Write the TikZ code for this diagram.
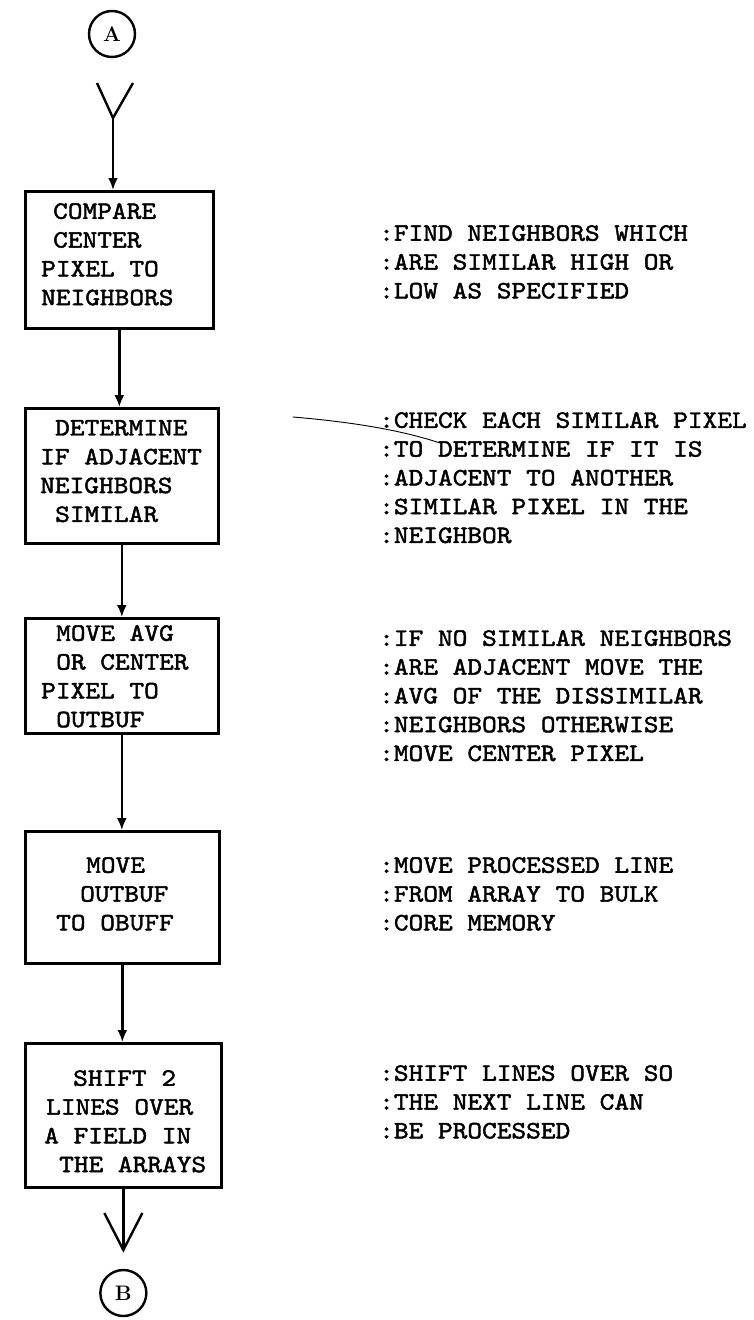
\documentclass[tikz,border=0pt]{standalone}
\usepackage{fontspec}
\newfontfamily\tw[FakeStretch=1.12,FakeBold=1.8]{lmmono10-regular.otf}
\newfontfamily\twc[FakeBold=1.5]{lmmono10-regular.otf}
\usetikzlibrary{arrows.meta}
\begin{document}
\begin{tikzpicture}[x=1pt,y=-1pt,
  box/.style={draw, line width=2.7pt, inner sep=0pt, anchor=north west},
  txt/.style={font=\tw\fontsize{25}{28.8}\selectfont, align=left, inner sep=0pt, anchor=north west},
  conn/.style={draw, circle, line width=2.4pt, minimum size=46pt, inner sep=0pt, font=\bfseries\fontsize{21}{21}\selectfont},
  arr/.style={line width=2.4pt, -{Latex[length=12pt,width=10pt]}},
  wire/.style={line width=2.4pt, line join=miter}]
\useasboundingbox (0,0) rectangle (754,1320);

% boxes
\node[box, minimum width=188pt, minimum height=137pt] (b1) at (24,190) {};
\node[box, minimum width=193pt, minimum height=135pt] (b2) at (24,407) {};
\node[box, minimum width=193pt, minimum height=115pt] (b3) at (24,617) {};
\node[box, minimum width=194pt, minimum height=132pt] (b4) at (24,830) {};
\node[box, minimum width=196pt, minimum height=144pt] (b5) at (24,1042) {};

% box texts
\node[txt] (t1) at (41,203) {\hspace*{12pt}COMPARE\\\hspace*{12pt}CENTER\\PIXEL TO\\NEIGHBORS};
\node[txt] (t2) at (40,420) {\hspace*{15pt}DETERMINE\\IF ADJACENT\\NEIGHBORS\\\hspace*{15pt}SIMILAR};
\node[txt] (t3) at (41,625) {\hspace*{15pt}MOVE AVG\\\hspace*{15pt}OR CENTER\\PIXEL TO\\\hspace*{15pt}OUTBUF};
\node[txt] (t4) at (41,857) {\hspace*{45pt}MOVE\\\hspace*{39pt}OUTBUF\\\hspace*{15pt}TO OBUFF};
\node[txt] (t5) at (41,1070) {\hspace*{32pt}SHIFT 2\\\hspace*{5pt}LINES OVER\\\hspace*{3pt}A FIELD IN\\\hspace*{18pt}THE ARRAYS};

% annotations
\node[txt] (n1) at (379,225) {:FIND NEIGHBORS WHICH\\:ARE SIMILAR HIGH OR\\:LOW AS SPECIFIED};
\node[txt] (n2) at (379,412) {:CHECK EACH SIMILAR PIXEL\\:TO DETERMINE IF IT IS\\:ADJACENT TO ANOTHER\\:SIMILAR PIXEL IN THE\\:NEIGHBOR};
\node[txt] (n3) at (379,630) {:IF NO SIMILAR NEIGHBORS\\:ARE ADJACENT MOVE THE\\:AVG OF THE DISSIMILAR\\:NEIGHBORS OTHERWISE\\:MOVE CENTER PIXEL};
\node[txt] (n4) at (379,857) {:MOVE PROCESSED LINE\\:FROM ARRAY TO BULK\\:CORE MEMORY};
\node[txt] (n5) at (379,1065) {:SHIFT LINES OVER SO\\:THE NEXT LINE CAN\\:BE PROCESSED};

% stray pen mark
\coordinate (s1) at (293,417);
\coordinate (s2) at (440,443);
\draw[line width=0.9pt] (s1) .. controls (340,421) and (395,428) .. (s2);

% connectors
\node[conn] (A) at (112,34) {A};
\coordinate (yj) at (113,118);
\coordinate (yl) at (97,83);
\coordinate (yr) at (133,83);
\draw[wire] (yl) -- (yj) -- (yr);
\draw[arr] (yj) -- (yj |- b1.north);
\draw[arr] (b1.south) -- (b1.south |- b2.north);
\draw[arr] (b2.south) -- (b2.south |- b3.north);
\draw[arr] (b3.south) -- (b3.south |- b4.north);
\draw[arr] (b4.south) -- (b4.south |- b5.north);
\coordinate (vt) at (b5.south |- 0,1250);
\draw[wire] (b5.south) -- (vt);
\draw[wire] (vt) ++(-19,-37) -- (vt) -- ++(19,-37);
\node[conn] (B) at (b5.south |- 0,1293) {B};
\end{tikzpicture}
\end{document}
